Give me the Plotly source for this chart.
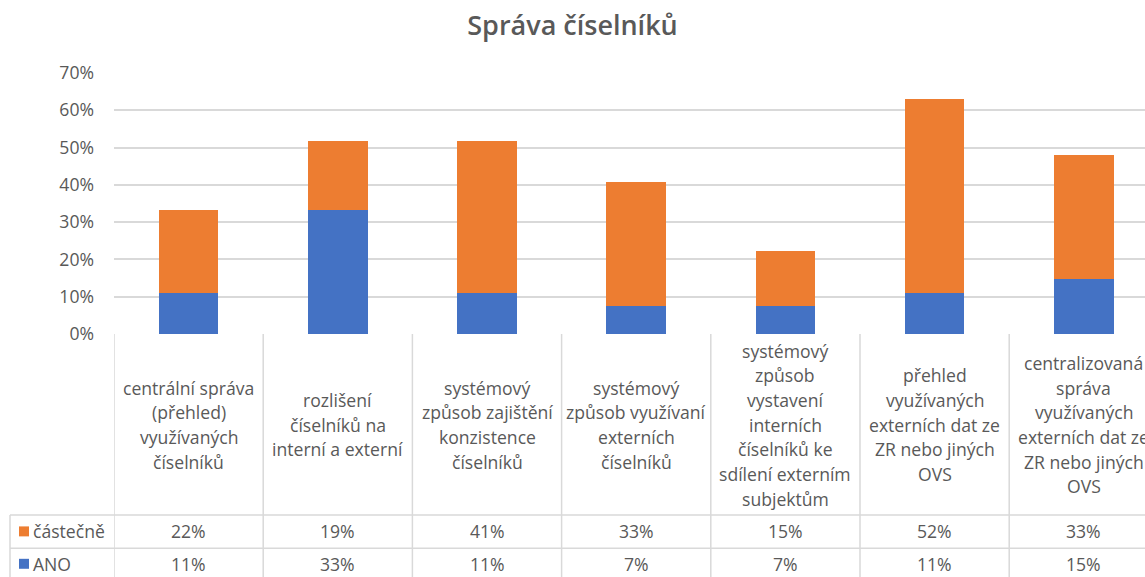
import plotly.graph_objects as go

title = "Správa číselníků"
categories = [
    "centrální správa<br>(přehled)<br>využívaných<br>číselníků",
    "rozlišení<br>číselníků na<br>interní a externí",
    "systémový<br>způsob zajištění<br>konzistence<br>číselníků",
    "systémový<br>způsob využívaní<br>externích<br>číselníků",
    "systémový<br>způsob<br>vystavení<br>interních<br>číselníků ke<br>sdílení externím<br>subjektům",
    "přehled<br>využívaných<br>externích dat ze<br>ZR nebo jiných<br>OVS",
    "centralizovaná<br>správa<br>využívaných<br>externích dat ze<br>ZR nebo jiných<br>OVS",
]
series_names = ["částečně", "ANO"]
castecne = [22.22, 18.52, 40.74, 33.33, 14.81, 51.85, 33.33]
ano = [11.11, 33.33, 11.11, 7.41, 7.41, 11.11, 14.81]
y_ticks = [0, 10, 20, 30, 40, 50, 60, 70]

ORANGE = "#ED7D31"
BLUE = "#4472C4"
GRID = "#d9d9d9"
TXT = "#595959"
FONT = "Open Sans"
FS = 17.6

W, H = 1145, 577
L, T = 114, 72.7
B_PX = 334.5
plot_h = B_PX - T
n = len(categories)
col_px = 149.2
xmax = (W - L) / col_px - 0.5
xs = list(range(n))
LINE_H = 24.7


def py(p):
    return (B_PX - p) / plot_h


def px(p):
    return (p - L) / (W - L)


fig = go.Figure()
fig.add_trace(go.Bar(x=xs, y=ano, name=series_names[1], marker=dict(color=BLUE, line_width=0), width=0.4))
fig.add_trace(go.Bar(x=xs, y=castecne, name=series_names[0], marker=dict(color=ORANGE, line_width=0), width=0.4))

shapes = []
for i in range(n + 1):
    shapes.append(dict(type="line", xref="x", yref="paper", x0=i - 0.5, x1=i - 0.5,
                       y0=py(B_PX), y1=py(H + 5), line=dict(color=GRID, width=1.5)))
for yy in [516, 549.3]:
    shapes.append(dict(type="line", xref="paper", yref="paper", x0=px(10), x1=1.0,
                       y0=py(yy), y1=py(yy), line=dict(color=GRID, width=1.5)))
shapes.append(dict(type="line", xref="paper", yref="paper", x0=px(10), x1=px(10),
                   y0=py(516), y1=py(H + 5), line=dict(color=GRID, width=1.5)))
for color, yc in [(ORANGE, 532.5), (BLUE, 565)]:
    shapes.append(dict(type="rect", xref="paper", yref="paper", x0=px(19), x1=px(29),
                       y0=py(yc + 5), y1=py(yc - 5), fillcolor=color, line_width=0))

annotations = []
for i, cat in enumerate(categories):
    lines = cat.split("<br>")
    k = len(lines)
    for j, ln in enumerate(lines):
        yc = 425.5 + (j - (k - 1) / 2) * LINE_H
        annotations.append(dict(x=i, xref="x", y=py(yc), yref="paper", text=ln, showarrow=False,
                                xanchor="center", yanchor="middle",
                                font=dict(family=FONT, size=FS, color=TXT)))
for vals, yc in [(castecne, 532.5), (ano, 565)]:
    for i, v in enumerate(vals):
        annotations.append(dict(x=i, xref="x", y=py(yc), yref="paper", text=f"{v:.0f}%", showarrow=False,
                                xanchor="center", yanchor="middle",
                                font=dict(family=FONT, size=FS, color=TXT)))
for name, yc in [(series_names[0], 532.5), (series_names[1], 565)]:
    annotations.append(dict(x=px(31), xref="paper", y=py(yc), yref="paper", text=name, showarrow=False,
                            xanchor="left", yanchor="middle",
                            font=dict(family=FONT, size=FS, color=TXT)))

fig.update_layout(
    width=W, height=H,
    margin=dict(l=L, r=0, t=T, b=H - B_PX, pad=0),
    barmode="stack",
    plot_bgcolor="white", paper_bgcolor="white",
    showlegend=False,
    title=dict(text=title, x=0.5, xanchor="center", y=1 - 26 / H, yanchor="middle",
               font=dict(family=FONT, size=27, color=TXT, weight=600)),
    xaxis=dict(range=[-0.5, xmax], showticklabels=False, showgrid=False, zeroline=False,
               showline=False, fixedrange=True),
    yaxis=dict(range=[0, 70], tickmode="array", tickvals=y_ticks,
               ticktext=[f"{t}%" for t in y_ticks], showgrid=True, gridcolor=GRID,
               gridwidth=1.5, zeroline=False, showline=False, ticklabelstandoff=19,
               tickfont=dict(family=FONT, size=FS, color=TXT)),
    shapes=shapes,
    annotations=annotations,
)

fig.write_html("out.html", config={"displayModeBar": False},
               post_script="document.body.style.margin='0';document.body.style.overflow='hidden';")
